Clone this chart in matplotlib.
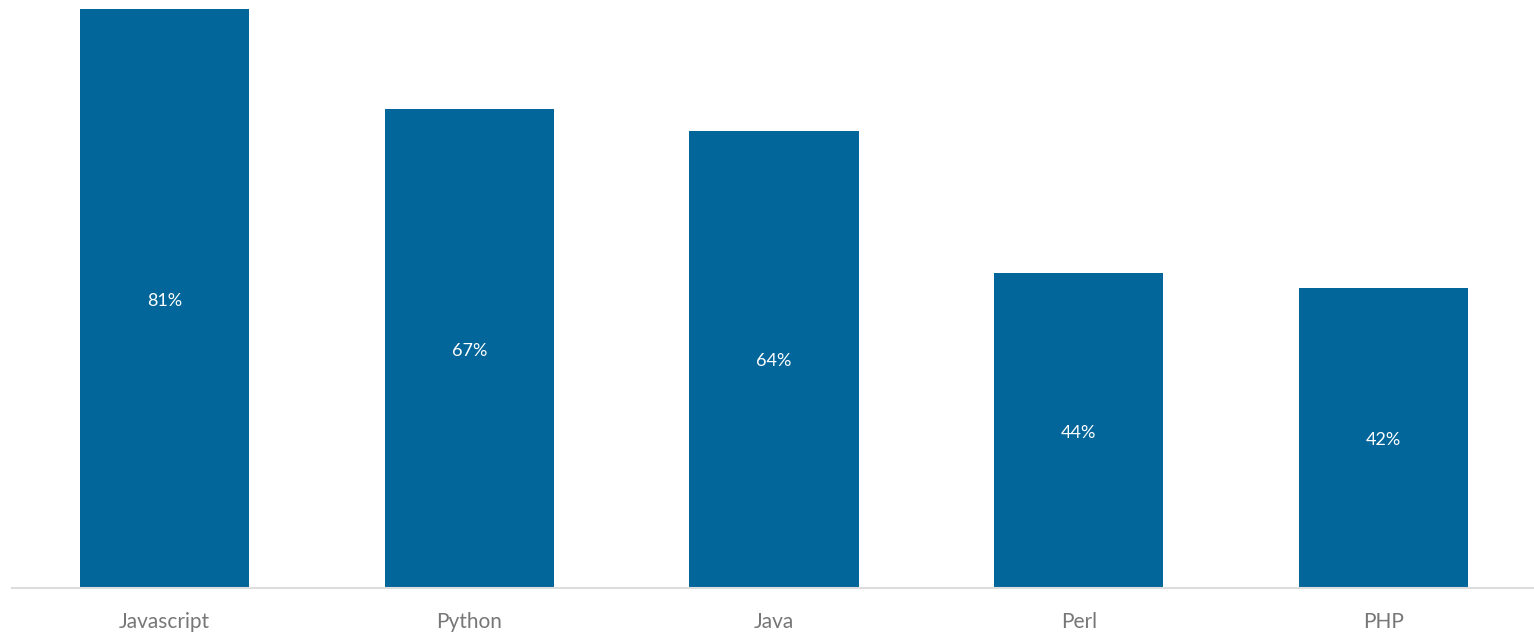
import matplotlib
matplotlib.use("Agg")
import matplotlib.pyplot as plt

categories = ["Javascript", "Python", "Java", "Perl", "PHP"]
values = [81, 67, 64, 44, 42]
value_labels = ["81%", "67%", "64%", "44%", "42%"]

plt.rcParams['font.family'] = ['Lato', 'DejaVu Sans']

fig = plt.figure(figsize=(15.34, 6.35), dpi=100)
ax = fig.add_axes([12/1534, 47/635, 1524/1534, 588/635])

x = list(range(len(categories)))
bars = ax.bar(x, values, width=0.555, color="#02669A")
for xi, v, lab in zip(x, values, value_labels):
    ax.text(xi, v / 2 - 0.3, lab, ha="center", va="center", color="white", fontsize=13)

ax.set_xlim(-0.5, len(categories) - 0.5)
ax.set_ylim(0, 82.26)
ax.set_xticks(x)
ax.set_xticklabels(categories, fontsize=15, color="#777777")
ax.tick_params(axis="x", length=0, pad=17)
ax.set_yticks([])
for s in ["top", "right", "left"]:
    ax.spines[s].set_visible(False)
ax.spines["bottom"].set_color("#dddddd")
ax.spines["bottom"].set_linewidth(1.5)

fig.savefig("out.png", dpi=100)
